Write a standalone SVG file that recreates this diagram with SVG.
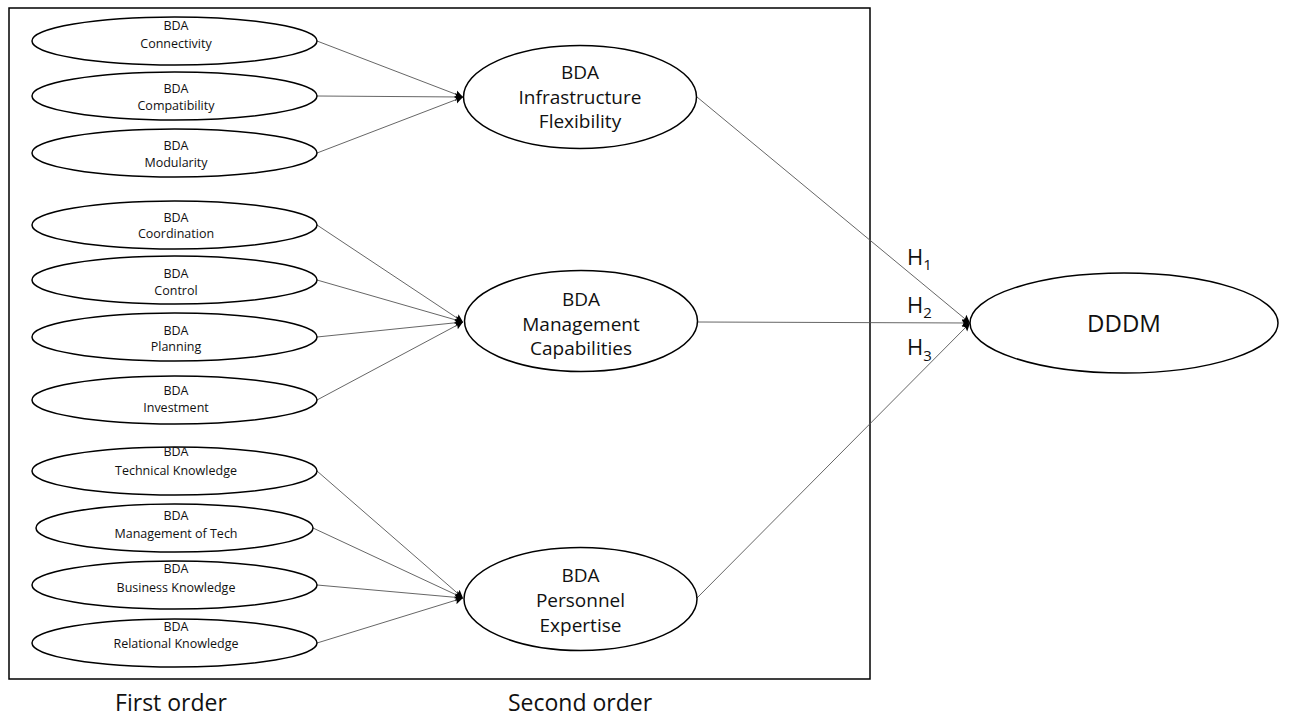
<svg xmlns="http://www.w3.org/2000/svg" width="1290" height="716" viewBox="0 0 1290 716">
  <style>
    .node ellipse { fill: #fff; stroke: #000; stroke-width: 1.5; }
    .sm { font-family: "Open Sans", "Liberation Sans", sans-serif; font-size: 12.5px; fill: #111; text-anchor: middle; }
    .lg { font-family: "Open Sans", "Liberation Sans", sans-serif; font-size: 19px; fill: #111; text-anchor: middle; }
    .dv { font-family: "Open Sans", "Liberation Sans", sans-serif; font-size: 24px; fill: #111; text-anchor: middle; }
    .hyp { font-family: "Open Sans", "Liberation Sans", sans-serif; font-size: 22px; fill: #111; }
    .hyp tspan.sub { font-size: 15px; }
    .cap { font-family: "Open Sans", "Liberation Sans", sans-serif; font-size: 23px; fill: #111; text-anchor: middle; }
    .edge { stroke: #555; stroke-width: 0.9; fill: none; marker-end: url(#tip); }
  </style>
  <defs>
    <marker id="tip" markerUnits="userSpaceOnUse" markerWidth="10" markerHeight="12" refX="8" refY="6" orient="auto">
      <path d="M0,2 L8,6 L0,10 L1.5,6 Z" fill="#000"/>
    </marker>
  </defs>

  <rect width="1290" height="716" fill="#fff"/>
  <!-- frame around the measurement model -->
  <rect x="9" y="8" width="861" height="671" fill="none" stroke="#000" stroke-width="1.5"/>

  <!-- connectors -->
  <g id="connectors">
    <line class="edge" x1="317" y1="41" x2="463" y2="97"/>
    <line class="edge" x1="317" y1="96" x2="463" y2="97"/>
    <line class="edge" x1="317" y1="153" x2="463" y2="97"/>

    <line class="edge" x1="317" y1="225" x2="463" y2="322"/>
    <line class="edge" x1="317" y1="280" x2="463" y2="322"/>
    <line class="edge" x1="317" y1="337" x2="463" y2="322"/>
    <line class="edge" x1="317" y1="400" x2="463" y2="322"/>

    <line class="edge" x1="317" y1="471" x2="463" y2="598"/>
    <line class="edge" x1="313" y1="528" x2="463" y2="598"/>
    <line class="edge" x1="317" y1="585" x2="463" y2="598"/>
    <line class="edge" x1="317" y1="643" x2="463" y2="598"/>

    <line class="edge" x1="697" y1="97" x2="970" y2="323"/>
    <line class="edge" x1="698" y1="322" x2="970" y2="323"/>
    <line class="edge" x1="697" y1="598" x2="970" y2="323"/>
  </g>

  <!-- first-order constructs -->
  <g id="n-connectivity" class="node">
    <ellipse cx="174.5" cy="41" rx="142.5" ry="24"/>
    <text class="sm" x="176" y="30">BDA</text>
    <text class="sm" x="176" y="48">Connectivity</text>
  </g>
  <g id="n-compatibility" class="node">
    <ellipse cx="174.5" cy="96" rx="142.5" ry="24"/>
    <text class="sm" x="176" y="93">BDA</text>
    <text class="sm" x="176" y="110">Compatibility</text>
  </g>
  <g id="n-modularity" class="node">
    <ellipse cx="174.5" cy="153" rx="142.5" ry="24"/>
    <text class="sm" x="176" y="150">BDA</text>
    <text class="sm" x="176" y="167">Modularity</text>
  </g>

  <g id="n-coordination" class="node">
    <ellipse cx="174.5" cy="225" rx="142.5" ry="24"/>
    <text class="sm" x="176" y="222">BDA</text>
    <text class="sm" x="176" y="238">Coordination</text>
  </g>
  <g id="n-control" class="node">
    <ellipse cx="174.5" cy="280" rx="142.5" ry="24"/>
    <text class="sm" x="176" y="278">BDA</text>
    <text class="sm" x="176" y="295">Control</text>
  </g>
  <g id="n-planning" class="node">
    <ellipse cx="174.5" cy="337" rx="142.5" ry="24"/>
    <text class="sm" x="176" y="335">BDA</text>
    <text class="sm" x="176" y="351">Planning</text>
  </g>
  <g id="n-investment" class="node">
    <ellipse cx="174.5" cy="400" rx="142.5" ry="24"/>
    <text class="sm" x="176" y="395">BDA</text>
    <text class="sm" x="176" y="412">Investment</text>
  </g>

  <g id="n-technical" class="node">
    <ellipse cx="174.5" cy="471" rx="142.5" ry="24"/>
    <text class="sm" x="176" y="456">BDA</text>
    <text class="sm" x="176" y="475">Technical Knowledge</text>
  </g>
  <g id="n-mgmt-tech" class="node">
    <ellipse cx="174.5" cy="528" rx="138.5" ry="24"/>
    <text class="sm" x="176" y="520">BDA</text>
    <text class="sm" x="176" y="538">Management of Tech</text>
  </g>
  <g id="n-business" class="node">
    <ellipse cx="174.5" cy="585" rx="142.5" ry="24"/>
    <text class="sm" x="176" y="573">BDA</text>
    <text class="sm" x="176" y="592">Business Knowledge</text>
  </g>
  <g id="n-relational" class="node">
    <ellipse cx="174.5" cy="643" rx="142.5" ry="24"/>
    <text class="sm" x="176" y="631">BDA</text>
    <text class="sm" x="176" y="648">Relational Knowledge</text>
  </g>

  <!-- second-order constructs -->
  <g id="n-infrastructure" class="node">
    <ellipse cx="580" cy="97" rx="116.5" ry="51.5"/>
    <text class="lg" x="580" y="79">BDA</text>
    <text class="lg" x="580" y="104">Infrastructure</text>
    <text class="lg" x="580" y="128">Flexibility</text>
  </g>
  <g id="n-management" class="node">
    <ellipse cx="581" cy="321" rx="116.5" ry="50.5"/>
    <text class="lg" x="581" y="306">BDA</text>
    <text class="lg" x="581" y="331">Management</text>
    <text class="lg" x="581" y="355">Capabilities</text>
  </g>
  <g id="n-personnel" class="node">
    <ellipse cx="580.5" cy="599" rx="116.5" ry="51.5"/>
    <text class="lg" x="580.5" y="582">BDA</text>
    <text class="lg" x="580.5" y="607">Personnel</text>
    <text class="lg" x="580.5" y="632">Expertise</text>
  </g>

  <!-- outcome -->
  <g id="n-dddm" class="node">
    <ellipse cx="1124" cy="323" rx="154" ry="50"/>
    <text class="dv" x="1124" y="332">DDDM</text>
  </g>

  <!-- hypothesis labels -->
  <g id="hypotheses">
    <text class="hyp" x="907" y="265">H<tspan class="sub" dy="5">1</tspan></text>
    <text class="hyp" x="907" y="313">H<tspan class="sub" dy="5">2</tspan></text>
    <text class="hyp" x="907" y="355">H<tspan class="sub" dy="6">3</tspan></text>
  </g>

  <!-- level captions -->
  <text class="cap" x="171" y="711">First order</text>
  <text class="cap" x="580" y="711">Second order</text>
</svg>
